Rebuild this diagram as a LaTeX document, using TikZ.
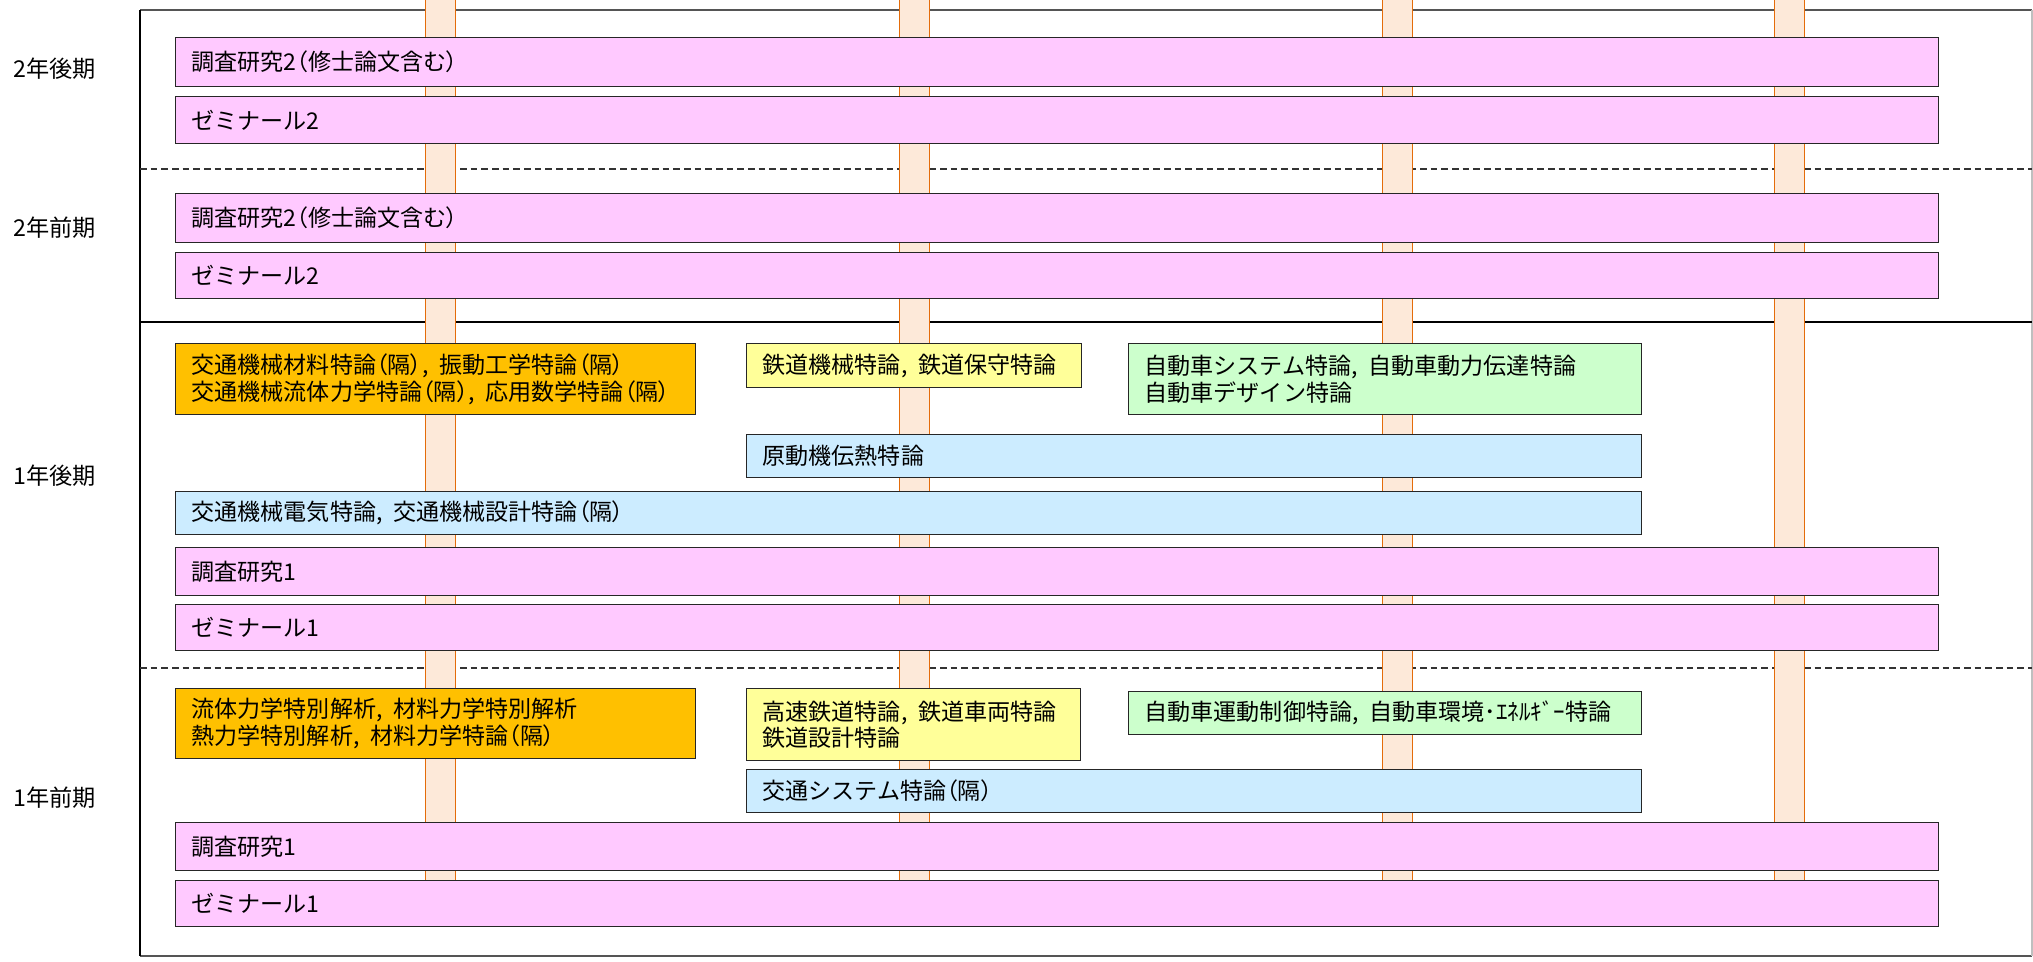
\documentclass[tikz,border=0pt]{standalone}
\usepackage{fontspec}
\setmainfont{Noto Sans CJK JP}
\newfontfamily\paltfont[RawFeature=+palt]{Noto Sans CJK JP}
\newcommand\LP{{\paltfont （}}
\newcommand\RP{{\paltfont ）}}
\newcommand\CM{,\hspace{8pt}}
\definecolor{pinkc}{RGB}{255,201,255}
\definecolor{orangec}{RGB}{255,192,0}
\definecolor{yellowc}{RGB}{255,255,153}
\definecolor{greenc}{RGB}{204,255,204}
\definecolor{bluec}{RGB}{204,236,255}
\definecolor{stripefill}{RGB}{253,233,217}
\definecolor{stripeline}{RGB}{228,108,10}
\definecolor{framegray}{RGB}{85,85,85}
\tikzset{
  cbx/.style={draw=black!85, line width=0.9pt, rectangle, inner xsep=12pt, inner ysep=0pt, align=left,
    font=\fontsize{17.3pt}{20pt}\selectfont},
  stripe/.style={draw=stripeline, fill=stripefill, line width=0.7pt},
  term/.style={anchor=west, inner sep=0pt, font=\fontsize{17.4pt}{20pt}\selectfont},
  sepdash/.style={draw=black!80, line width=1pt, dash pattern=on 5pt off 3pt},
}
\newcommand\cbox[7]{%
  \pgfmathsetmacro\bw{(#4-#2)*0.75}%
  \pgfmathsetmacro\bh{(#5-#3)*0.75}%
  \pgfmathsetmacro\tw{\bw-24}%
  \node[cbx, fill=#6, minimum width=\bw pt, minimum height=\bh pt, text width=\tw pt, anchor=north west] (#1) at (#2,#3) {#7};%
}
\begin{document}
\begin{tikzpicture}[x=0.75pt, y=-0.75pt]
\useasboundingbox (0,0) rectangle (2033,962);
% frame
\coordinate (ftl) at (140,10);
\coordinate (ftr) at (2032,10);
\coordinate (fbl) at (140,956);
\coordinate (fbr) at (2032,956);
\draw[framegray, line width=1.3pt] (ftl) -- (ftr);
\draw[framegray, line width=1.3pt] (fbl) -- (fbr);
\draw[black, line width=0.9pt] (ftl) -- (fbl);
\draw[black!25, line width=0.9pt] (ftr) -- (fbr);
% separators
\coordinate (d1l) at (140,169); \coordinate (d1r) at (2032,169);
\coordinate (s1l) at (140,322); \coordinate (s1r) at (2032,322);
\coordinate (d2l) at (140,668); \coordinate (d2r) at (2032,668);
\draw[sepdash] (d1l) -- (d1r);
\draw[black, line width=1.6pt] (s1l) -- (s1r);
\draw[sepdash] (d2l) -- (d2r);
% stripes
\draw[stripe] (425.5,-2) rectangle (455.5,900);
\draw[stripe] (899,-2) rectangle (929,900);
\draw[stripe] (1382.5,-2) rectangle (1412.5,900);
\draw[stripe] (1774,-2) rectangle (1804,900);
% term labels
\node[term] (t4) at (13,69) {2年後期};
\node[term] (t3) at (13,228) {2年前期};
\node[term] (t2) at (13,476) {1年後期};
\node[term] (t1) at (13,798) {1年前期};
% 2nd year
\cbox{p2a}{175}{37}{1938}{86}{pinkc}{調査研究2\LP 修士論文含む\RP}
\cbox{p2b}{175}{96}{1938}{143}{pinkc}{ゼミナール2}
\cbox{p2c}{175}{193}{1938}{242}{pinkc}{調査研究2\LP 修士論文含む\RP}
\cbox{p2d}{175}{252}{1938}{298}{pinkc}{ゼミナール2}
% 1st year, second half
\cbox{o1}{175}{343}{695}{414}{orangec}{交通機械材料特論\LP 隔\RP\CM 振動工学特論\LP 隔\RP\\交通機械流体力学特論\LP 隔\RP\CM 応用数学特論\LP 隔\RP}
\cbox{y1}{746}{343}{1081}{387}{yellowc}{鉄道機械特論\CM 鉄道保守特論}
\cbox{g1}{1128}{343}{1641}{414}{greenc}{自動車システム特論\CM 自動車動力伝達特論\\自動車デザイン特論}
\cbox{b1}{746}{434}{1641}{477}{bluec}{原動機伝熱特論}
\cbox{b2}{175}{491}{1641}{534}{bluec}{交通機械電気特論\CM 交通機械設計特論\LP 隔\RP}
\cbox{p1a}{175}{547}{1938}{595}{pinkc}{調査研究1}
\cbox{p1b}{175}{604}{1938}{650}{pinkc}{ゼミナール1}
% 1st year, first half
\cbox{o2}{175}{688}{695}{758}{orangec}{流体力学特別解析\CM 材料力学特別解析\\熱力学特別解析\CM 材料力学特論\LP 隔\RP}
\cbox{y2}{746}{688}{1080}{760}{yellowc}{高速鉄道特論\CM 鉄道車両特論\\鉄道設計特論}
\cbox{g2}{1128}{691}{1641}{734}{greenc}{自動車運動制御特論\CM 自動車環境･ｴﾈﾙｷﾞｰ特論}
\cbox{b3}{746}{769}{1641}{812}{bluec}{交通システム特論\LP 隔\RP}
\cbox{p1c}{175}{822}{1938}{870}{pinkc}{調査研究1}
\cbox{p1d}{175}{880}{1938}{926}{pinkc}{ゼミナール1}
\end{tikzpicture}
\end{document}
